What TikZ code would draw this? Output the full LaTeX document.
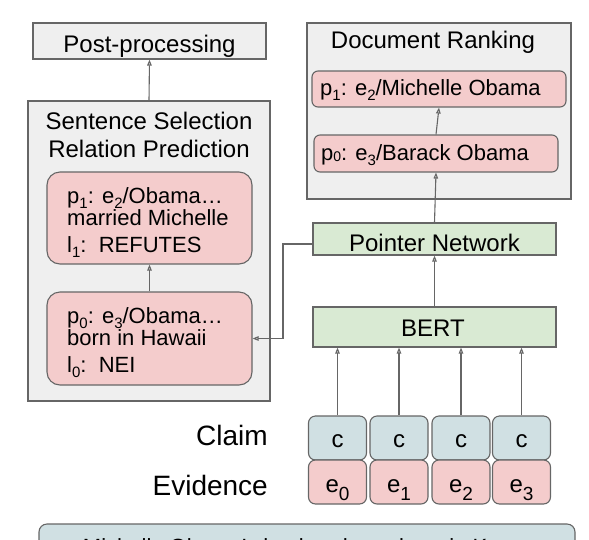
\documentclass[tikz,border=0pt]{standalone}
\usepackage{fontspec}
\setmainfont{Liberation Sans}
\usetikzlibrary{arrows.meta}
\definecolor{boxgray}{HTML}{EFEFEF}
\definecolor{edge}{HTML}{666666}
\definecolor{pinkf}{HTML}{F4CCCC}
\definecolor{greenf}{HTML}{D9EAD3}
\definecolor{bluef}{HTML}{D0E0E3}
\newcommand\sbs[1]{\smash{\raisebox{-5pt}{\fontsize{15}{15}\selectfont #1}}}
\newcommand\sbp[1]{\raisebox{-1pt}{\fontsize{14}{14}\selectfont #1}}
\newcommand\sbe[1]{\raisebox{-8pt}{\fontsize{19}{19}\selectfont #1}}
\begin{document}
\begin{tikzpicture}[x=1pt,y=-1pt,
  box/.style={draw=edge, line width=1.1pt, inner sep=0pt},
  txtA/.style={font=\fontsize{24}{28}\selectfont, inner sep=0pt, anchor=base},
  txtB/.style={font=\fontsize{22}{26}\selectfont, inner sep=0pt, anchor=base west},
  txtC/.style={font=\fontsize{28}{32}\selectfont, inner sep=0pt, anchor=base east},
  arr/.style={draw=edge, line width=1.1pt, -{Triangle[open, length=6pt, width=4.5pt]}},
  cbox/.style={box, fill=bluef, rounded corners=7pt, minimum width=58, minimum height=44},
  ebox/.style={box, fill=pinkf, rounded corners=7pt, minimum width=58, minimum height=44}]
\useasboundingbox (0,0) rectangle (589,539);

% left column
\node[box, fill=boxgray, minimum width=233, minimum height=36] (post) at (149.5,41) {};
\node[txtA] (posttxt) at (149.5,52) {Post-processing};

\node[box, fill=boxgray, minimum width=242, minimum height=300] (ss) at (149,251) {};
\node[txtA] (sst1) at (149,129) {Sentence Selection};
\node[txtA] (sst2) at (149,157) {Relation Prediction};

\node[box, fill=pinkf, rounded corners=13pt, minimum width=205, minimum height=92] (sp1) at (149.5,218) {};
\node[txtB] (sp1a) at (67,203) {p\sbs{1}: e\sbs{2}/Obama…};
\node[txtB] (sp1b) at (67,225) {married Michelle};
\node[txtB] (sp1c) at (67,252) {l\sbs{1}:\ \ REFUTES};

\node[box, fill=pinkf, rounded corners=13pt, minimum width=205, minimum height=93] (sp0) at (149.5,338.5) {};
\node[txtB] (sp0a) at (67,323) {p\sbs{0}: e\sbs{3}/Obama…};
\node[txtB] (sp0b) at (67,345) {born in Hawaii};
\node[txtB] (sp0c) at (67,372) {l\sbs{0}:\ \ NEI};

% right column
\node[box, fill=boxgray, minimum width=264, minimum height=176] (dr) at (439,111) {};
\node[txtA] (drt) at (433,48) {Document Ranking};

\node[box, fill=pinkf, rounded corners=6pt, minimum width=254, minimum height=36] (dp1) at (439,89) {};
\node[txtB] (dp1t) at (320,95) {p\sbs{1}: e\sbs{2}/Michelle Obama};
\node[box, fill=pinkf, rounded corners=6pt, minimum width=244, minimum height=37] (dp0) at (436,153.5) {};
\node[txtB] (dp0t) at (321,160) {p\sbp{0}: e\sbs{3}/Barack Obama};

\node[box, fill=greenf, minimum width=243, minimum height=32] (pn) at (434.5,239) {};
\node[txtA] (pnt) at (434.5,251.5) {Pointer Network};

\node[box, fill=greenf, minimum width=243, minimum height=40] (bert) at (434.5,327) {};
\node[txtA] (bertt) at (433,336) {BERT};

\foreach \i/\x in {0/337.5,1/399,2/461,3/521.5}{
  \node[cbox] (c\i) at (\x,438) {};
  \node[txtA] (ct\i) at (\x,447) {c};
  \node[ebox] (e\i) at (\x,482) {};
  \node[txtA] (et\i) at (\x,492) {e\sbe{\i}};
}

\node[txtC] (claimlbl) at (268,445) {Claim};
\node[txtC] (evidlbl) at (268,495) {Evidence};

\node[box, fill=bluef, rounded corners=8pt, minimum width=536, minimum height=80] (claimbox) at (307,564) {};
\node[txtB, anchor=base] (claimtxt) at (309,554) {Michelle Obama's husband was born in Kenya};

% connectors
\draw[arr] (ss.north) -- (post.south);
\draw[arr] (sp0.north) -- (sp1.south);
\coordinate (bend) at (283,244);
\draw[arr] (pn.west |- bend) -- (bend) |- (sp0.east);
\draw[arr] (bert.north) -- (pn.south);
\draw[arr] (pn.north) -- (dp0.south);
\draw[arr] (dp0.north) -- (dp1.south);
\foreach \i in {0,1,2,3}{
  \draw[arr] (c\i.north) -- (c\i.north |- bert.south);
}
\end{tikzpicture}
\end{document}
